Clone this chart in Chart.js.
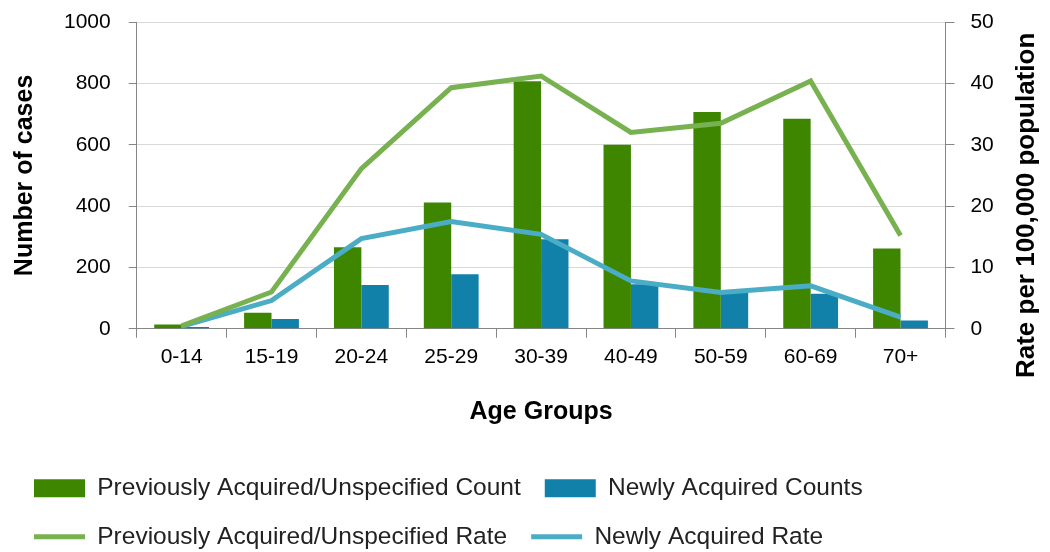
<!DOCTYPE html>
<html>
<head>
<meta charset="utf-8">
<script src="https://cdn.jsdelivr.net/npm/chart.js@4.4.1/dist/chart.umd.min.js"></script>
<style>
  body { margin: 0; background: #fff; }
</style>
</head>
<body>
<canvas id="chart" width="1050" height="552"></canvas>
<script>
const ageGroups = ['0-14', '15-19', '20-24', '25-29', '30-39', '40-49', '50-59', '60-69', '70+'];
const prevCounts = [14, 52, 266, 412, 807, 600, 707, 685, 262];
const newCounts = [6, 32, 143, 178, 292, 145, 122, 114, 27];
const prevRates = [0.5, 6.0, 26.1, 39.3, 41.2, 32.0, 33.5, 40.4, 15.2];
const newRates = [0.4, 4.6, 14.7, 17.5, 15.4, 7.8, 5.9, 7.0, 1.9];

const rightTitle = 'Rate per 100,000 population';

Chart.defaults.font.family = "'Liberation Sans', Arial, sans-serif";
Chart.defaults.color = '#000';

// right axis title reads bottom-to-top, chart.js draws it the other way
const rightTitlePlugin = {
  id: 'rightTitle',
  afterDraw(chart) {
    const s = chart.scales.y1;
    const ctx = chart.ctx;
    ctx.save();
    ctx.font = "bold 26px 'Liberation Sans', Arial, sans-serif";
    ctx.fillStyle = '#000';
    ctx.textAlign = 'center';
    ctx.textBaseline = 'middle';
    ctx.translate(s.right - 18, (s.top + s.bottom) / 2 + 30);
    ctx.rotate(-Math.PI / 2);
    ctx.fillText(rightTitle, 0, 0);
    ctx.restore();
  }
};

// tick padding also pads the top of the plot; set that gap directly
const trimTop = scale => { scale.paddingTop = 22; };

new Chart(document.getElementById('chart').getContext('2d'), {
  data: {
    labels: ageGroups,
    datasets: [
      { type: 'bar', label: 'Previously Acquired/Unspecified Count', data: prevCounts, backgroundColor: '#3f8600', yAxisID: 'y', order: 2 },
      { type: 'bar', label: 'Newly Acquired Counts', data: newCounts, backgroundColor: '#1181aa', yAxisID: 'y', order: 2 },
      { type: 'line', label: 'Previously Acquired/Unspecified Rate', data: prevRates, borderColor: '#77b150', backgroundColor: '#77b150', borderWidth: 5, pointRadius: 0, tension: 0, yAxisID: 'y1', order: 1 },
      { type: 'line', label: 'Newly Acquired Rate', data: newRates, borderColor: '#4bacc6', backgroundColor: '#4bacc6', borderWidth: 5, pointRadius: 0, tension: 0, yAxisID: 'y1', order: 1 }
    ]
  },
  options: {
    responsive: false,
    animation: false,
    layout: { padding: { left: 10, right: 5, top: 0, bottom: -7 } },
    datasets: { bar: { categoryPercentage: 0.61, barPercentage: 1.0 } },
    plugins: {
      tooltip: { enabled: false },
      legend: {
        position: 'bottom',
        align: 'start',
        labels: {
          usePointStyle: true,
          pointStyleWidth: 51,
          boxHeight: 18,
          padding: 24,
          color: '#222',
          font: { size: 24.5 },
          sort: (a, b) => a.datasetIndex - b.datasetIndex,
          generateLabels(chart) {
            const items = Chart.defaults.plugins.legend.labels.generateLabels(chart);
            items.forEach(it => {
              const ds = chart.data.datasets[it.datasetIndex];
              if (ds.type === 'line') {
                it.pointStyle = 'line';
                it.strokeStyle = ds.borderColor;
                it.lineWidth = 5;
              } else {
                it.pointStyle = 'rect';
                it.fillStyle = ds.backgroundColor;
                it.lineWidth = 0;
              }
            });
            return items;
          }
        }
      }
    },
    scales: {
      x: {
        grid: { drawOnChartArea: false, tickLength: 9, tickColor: '#868686' },
        border: { color: '#868686' },
        ticks: { font: { size: 21 }, padding: 7, maxRotation: 0 },
        title: { display: true, text: 'Age Groups', font: { size: 25, weight: 'bold' }, padding: { top: 20, bottom: 25 } }
      },
      y: {
        position: 'left',
        min: 0, max: 1000,
        afterFit: trimTop,
        ticks: { stepSize: 200, font: { size: 21 }, padding: 18, callback: v => String(v) },
        grid: { color: '#d9d9d9', tickLength: 8, tickColor: '#868686' },
        border: { color: '#868686' },
        title: { display: true, text: 'Number of cases', font: { size: 25, weight: 'bold' }, padding: { top: 0, bottom: 6 } }
      },
      y1: {
        position: 'right',
        min: 0, max: 50,
        afterFit: trimTop,
        ticks: { stepSize: 10, font: { size: 21 }, padding: 16 },
        grid: { drawOnChartArea: false, tickLength: 9, tickColor: '#868686' },
        border: { color: '#868686' },
        title: { display: true, text: rightTitle, color: 'rgba(0,0,0,0)', font: { size: 26, weight: 'bold' }, padding: { top: 4, bottom: 0 } }
      }
    }
  },
  plugins: [rightTitlePlugin]
});
</script>
</body>
</html>
